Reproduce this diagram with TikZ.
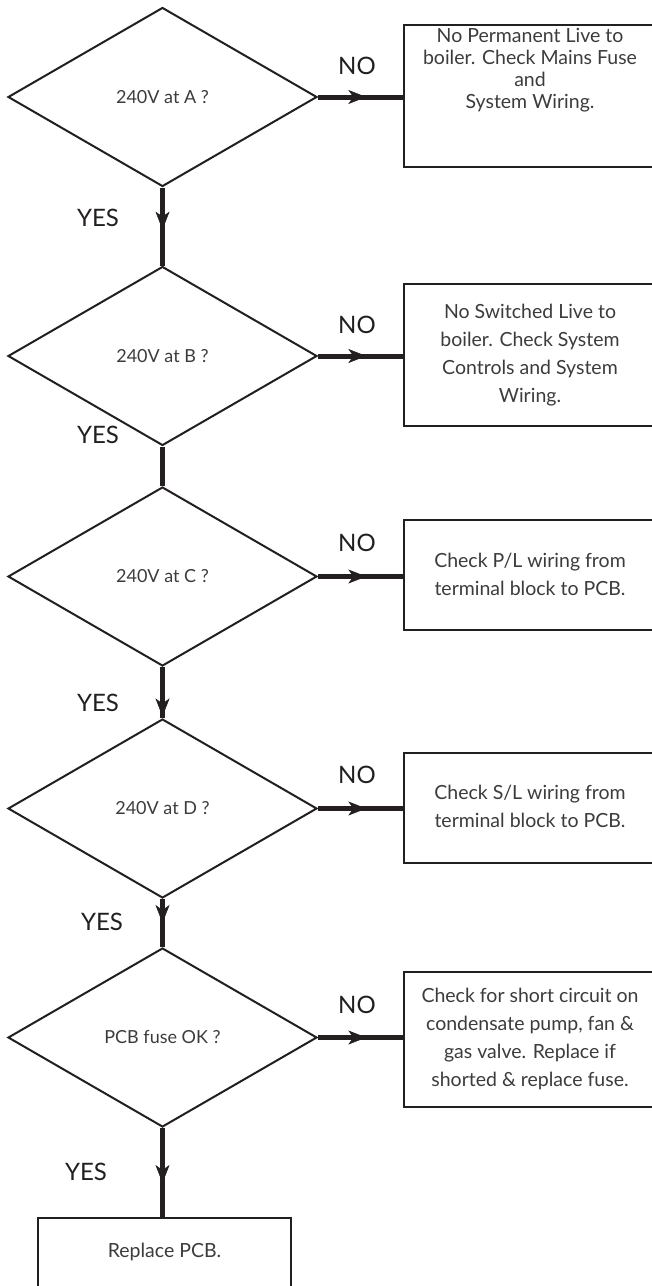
\documentclass[tikz,border=0pt]{standalone}
\usepackage{fontspec}
\setmainfont{Lato}
\usetikzlibrary{shapes.geometric,arrows.meta,decorations.markings}
\definecolor{ink}{HTML}{231F20}
\definecolor{txt}{HTML}{3C3C3C}
\begin{document}
\begin{tikzpicture}[x=1pt,y=-1pt,
  dec/.style={draw=ink, line width=2pt, shape=diamond, minimum width=309pt, minimum height=179pt, inner sep=0pt, text=txt, font=\fontsize{18}{21}\selectfont},
  boxr/.style={draw=ink, line width=2.5pt, rectangle, inner sep=0pt},
  btxt/.style={align=center, text=txt, font=\fontsize{19.5}{28}\selectfont},
  lbl/.style={text=ink, font=\fontsize{24}{28}\selectfont},
  flow/.style={line width=5pt, draw=ink, postaction={decorate},
    decoration={markings, mark=at position #1 with {\arrow[line width=0.5pt]{Stealth[length=18pt,width=14pt,inset=5pt]}}}},
  flow/.default=0.55,
  plain/.style={line width=5pt, draw=ink}
]
\clip (0,0) rectangle (652,1286);
\fill[white] (0,0) rectangle (652,1286);

% decisions
\node[dec] (d1) at (162.5,97) {240V at A ?};
\node[dec] (d2) at (162.5,356) {240V at B ?};
\node[dec] (d3) at (162.5,576.5) {240V at C ?};
\node[dec] (d4) at (162.5,808.5) {240V at D ?};
\node[dec] (d5) at (162.5,1037.5) {PCB fuse OK ?};

% result boxes
\node[boxr, minimum width=256pt, minimum height=142pt] (b1) at (532,96) {};
\node[boxr, minimum width=256pt, minimum height=142pt] (b2) at (532,355) {};
\node[boxr, minimum width=256pt, minimum height=110pt] (b3) at (532,575) {};
\node[boxr, minimum width=256pt, minimum height=110pt] (b4) at (532,808) {};
\node[boxr, minimum width=256pt, minimum height=135pt] (b5) at (532,1039.5) {};
\node[boxr, minimum width=253pt, minimum height=90pt] (b6) at (164.5,1263) {};

% box texts
\node[btxt, font=\fontsize{19.5}{22}\selectfont] (t1) at (530,70.5) {No Permanent Live to\\boiler. Check Mains Fuse\\and\\System Wiring.};
\node[btxt] (t2) at (530,355) {No Switched Live to\\boiler. Check System\\Controls and System\\Wiring.};
\node[btxt] (t3) at (530,574) {Check P/L wiring from\\terminal block to PCB.};
\node[btxt] (t4) at (530,806.5) {Check S/L wiring from\\terminal block to PCB.};
\node[btxt] (t5) at (530,1038.5) {Check for short circuit on\\condensate pump, fan \&\\gas valve. Replace if\\shorted \& replace fuse.};
\node[btxt] (t6) at (164.5,1252) {Replace PCB.};

% NO connectors
\draw[flow=0.57] (d1.east) -- (d1.east -| b1.west);
\draw[flow=0.57] (d2.east) -- (d2.east -| b2.west);
\draw[flow=0.57] (d3.east) -- (d3.east -| b3.west);
\draw[flow=0.57] (d4.east) -- (d4.east -| b4.west);
\draw[flow=0.57] (d5.east) -- (d5.east -| b5.west);

% YES connectors
\draw[flow=0.54] (d1.south) -- (d2.north);
\draw[plain] (d2.south) -- (d3.north);
\draw[flow=0.97] (d3.south) -- (d4.north);
\draw[flow=0.5] (d4.south) -- (d5.north);
\draw[flow=0.62] (d5.south) -- (d5.south |- b6.north);

% labels
\node[lbl] (n1) at (357,66) {NO};
\node[lbl] (n2) at (357,325) {NO};
\node[lbl] (n3) at (357,543) {NO};
\node[lbl] (n4) at (357,775) {NO};
\node[lbl] (n5) at (357,1005) {NO};
\node[lbl] (y1) at (98,218) {YES};
\node[lbl] (y2) at (98,435) {YES};
\node[lbl] (y3) at (98,703) {YES};
\node[lbl] (y4) at (102,922) {YES};
\node[lbl] (y5) at (86,1172) {YES};
\end{tikzpicture}
\end{document}
